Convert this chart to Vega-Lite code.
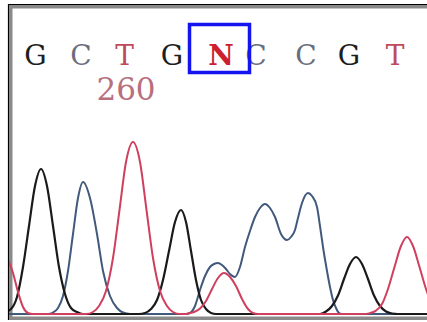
{
  "$schema": "https://vega.github.io/schema/vega-lite/v6.json",
  "width": 423,
  "height": 315,
  "autosize": {"type": "none"},
  "padding": {"left": 9, "top": 5, "right": 0, "bottom": 0},
  "background": "white",
  "config": {"view": {"stroke": "#000000", "strokeWidth": 2.2}},
  "datasets": {
    "traces": [
      {"dye": "C", "x": 0, "v": 0}, {"dye": "C", "x": 48, "v": 0}, {"dye": "C", "x": 53, "v": 1.5}, {"dye": "C", "x": 58, "v": 6}, {"dye": "C", "x": 63, "v": 18}, {"dye": "C", "x": 68, "v": 43}, {"dye": "C", "x": 73, "v": 80}, {"dye": "C", "x": 78, "v": 116}, {"dye": "C", "x": 83, "v": 132}, {"dye": "C", "x": 90, "v": 116}, {"dye": "C", "x": 97, "v": 80}, {"dye": "C", "x": 103, "v": 43}, {"dye": "C", "x": 110, "v": 18}, {"dye": "C", "x": 117, "v": 6}, {"dye": "C", "x": 123, "v": 1.5}, {"dye": "C", "x": 130, "v": 0}, {"dye": "C", "x": 186, "v": 0}, {"dye": "C", "x": 190, "v": 1}, {"dye": "C", "x": 195, "v": 8}, {"dye": "C", "x": 200, "v": 24}, {"dye": "C", "x": 205, "v": 38}, {"dye": "C", "x": 210, "v": 47}, {"dye": "C", "x": 214, "v": 50}, {"dye": "C", "x": 218, "v": 51}, {"dye": "C", "x": 222, "v": 49}, {"dye": "C", "x": 226, "v": 45}, {"dye": "C", "x": 230, "v": 40}, {"dye": "C", "x": 235, "v": 37}, {"dye": "C", "x": 240, "v": 47}, {"dye": "C", "x": 245, "v": 67}, {"dye": "C", "x": 250, "v": 83}, {"dye": "C", "x": 255, "v": 97}, {"dye": "C", "x": 260, "v": 106}, {"dye": "C", "x": 265, "v": 110}, {"dye": "C", "x": 270, "v": 106}, {"dye": "C", "x": 275, "v": 97}, {"dye": "C", "x": 281, "v": 80}, {"dye": "C", "x": 287, "v": 74}, {"dye": "C", "x": 291, "v": 77}, {"dye": "C", "x": 295, "v": 84}, {"dye": "C", "x": 298, "v": 96}, {"dye": "C", "x": 302, "v": 111}, {"dye": "C", "x": 308, "v": 121}, {"dye": "C", "x": 312, "v": 118}, {"dye": "C", "x": 317, "v": 107}, {"dye": "C", "x": 320, "v": 88}, {"dye": "C", "x": 323, "v": 67}, {"dye": "C", "x": 327, "v": 43}, {"dye": "C", "x": 330, "v": 27}, {"dye": "C", "x": 333, "v": 14}, {"dye": "C", "x": 336, "v": 6}, {"dye": "C", "x": 339, "v": 1}, {"dye": "C", "x": 342, "v": 0}, {"dye": "C", "x": 440, "v": 0},
      {"dye": "G", "x": -1, "v": 0}, {"dye": "G", "x": 5, "v": 2}, {"dye": "G", "x": 11, "v": 5}, {"dye": "G", "x": 17, "v": 17}, {"dye": "G", "x": 23, "v": 47}, {"dye": "G", "x": 29, "v": 88}, {"dye": "G", "x": 35, "v": 128}, {"dye": "G", "x": 41, "v": 145}, {"dye": "G", "x": 47, "v": 128}, {"dye": "G", "x": 53, "v": 88}, {"dye": "G", "x": 59, "v": 47}, {"dye": "G", "x": 65, "v": 20}, {"dye": "G", "x": 71, "v": 6}, {"dye": "G", "x": 77, "v": 2}, {"dye": "G", "x": 83, "v": 0}, {"dye": "G", "x": 139, "v": 0}, {"dye": "G", "x": 145, "v": 1}, {"dye": "G", "x": 151, "v": 5}, {"dye": "G", "x": 157, "v": 14}, {"dye": "G", "x": 163, "v": 34}, {"dye": "G", "x": 169, "v": 63}, {"dye": "G", "x": 175, "v": 92}, {"dye": "G", "x": 181, "v": 104}, {"dye": "G", "x": 186, "v": 92}, {"dye": "G", "x": 191, "v": 63}, {"dye": "G", "x": 196, "v": 34}, {"dye": "G", "x": 201, "v": 14}, {"dye": "G", "x": 206, "v": 5}, {"dye": "G", "x": 211, "v": 1}, {"dye": "G", "x": 216, "v": 0}, {"dye": "G", "x": 320, "v": 0}, {"dye": "G", "x": 326, "v": 2.5}, {"dye": "G", "x": 332, "v": 8}, {"dye": "G", "x": 338, "v": 18.5}, {"dye": "G", "x": 344, "v": 35}, {"dye": "G", "x": 350, "v": 50}, {"dye": "G", "x": 356, "v": 57}, {"dye": "G", "x": 362, "v": 50}, {"dye": "G", "x": 368, "v": 35}, {"dye": "G", "x": 374, "v": 18.5}, {"dye": "G", "x": 380, "v": 8}, {"dye": "G", "x": 386, "v": 2.5}, {"dye": "G", "x": 392, "v": 0.5}, {"dye": "G", "x": 398, "v": 0}, {"dye": "G", "x": 440, "v": 0},
      {"dye": "T", "x": 0, "v": 80}, {"dye": "T", "x": 5, "v": 62}, {"dye": "T", "x": 9, "v": 52}, {"dye": "T", "x": 13, "v": 41}, {"dye": "T", "x": 18, "v": 22}, {"dye": "T", "x": 23, "v": 7}, {"dye": "T", "x": 28, "v": 1}, {"dye": "T", "x": 33, "v": 0}, {"dye": "T", "x": 86, "v": 0}, {"dye": "T", "x": 93, "v": 2}, {"dye": "T", "x": 99, "v": 8}, {"dye": "T", "x": 106, "v": 23}, {"dye": "T", "x": 113, "v": 56}, {"dye": "T", "x": 119.5, "v": 104}, {"dye": "T", "x": 126, "v": 152}, {"dye": "T", "x": 133, "v": 172}, {"dye": "T", "x": 140, "v": 152}, {"dye": "T", "x": 146.5, "v": 104}, {"dye": "T", "x": 153, "v": 56}, {"dye": "T", "x": 160, "v": 23}, {"dye": "T", "x": 167, "v": 8}, {"dye": "T", "x": 173, "v": 2}, {"dye": "T", "x": 180, "v": 0}, {"dye": "T", "x": 186, "v": 0}, {"dye": "T", "x": 188, "v": 0.5}, {"dye": "T", "x": 194, "v": 2}, {"dye": "T", "x": 200, "v": 5.5}, {"dye": "T", "x": 206, "v": 13}, {"dye": "T", "x": 212, "v": 25}, {"dye": "T", "x": 218, "v": 36}, {"dye": "T", "x": 224, "v": 41}, {"dye": "T", "x": 230, "v": 37}, {"dye": "T", "x": 236, "v": 28}, {"dye": "T", "x": 242, "v": 15}, {"dye": "T", "x": 248, "v": 5}, {"dye": "T", "x": 253, "v": 1}, {"dye": "T", "x": 258, "v": 0}, {"dye": "T", "x": 363, "v": 0}, {"dye": "T", "x": 370, "v": 0.9}, {"dye": "T", "x": 376, "v": 3.4}, {"dye": "T", "x": 382, "v": 10}, {"dye": "T", "x": 388, "v": 25}, {"dye": "T", "x": 394.5, "v": 47}, {"dye": "T", "x": 401, "v": 68}, {"dye": "T", "x": 407, "v": 77}, {"dye": "T", "x": 413, "v": 68}, {"dye": "T", "x": 419.5, "v": 47}, {"dye": "T", "x": 426, "v": 25}, {"dye": "T", "x": 432, "v": 10}, {"dye": "T", "x": 438, "v": 3.4}
    ],
    "bases": [
      {"base": "G", "x": 35.5}, {"base": "C", "x": 81}, {"base": "T", "x": 124.5}, {"base": "G", "x": 172},
      {"base": "N", "x": 221}, {"base": "C", "x": 256}, {"base": "C", "x": 306}, {"base": "G", "x": 349}, {"base": "T", "x": 395}
    ],
    "positions": [{"pos": "260", "x": 126}]
  },
  "layer": [
    {
      "data": {"values": [{}]},
      "mark": {"type": "rect", "fillOpacity": 0, "stroke": "#8a8a8a", "strokeWidth": 7, "clip": true},
      "encoding": {
        "x": {"datum": 9, "type": "quantitative", "scale": {"domain": [9, 432], "nice": false, "zero": false}, "axis": null},
        "x2": {"datum": 432},
        "y": {"datum": -6, "type": "quantitative", "scale": {"domain": [-6, 309], "nice": false, "zero": false}, "axis": null},
        "y2": {"datum": 309}
      }
    },
    {
      "data": {"name": "traces"},
      "transform": [{"filter": "datum.dye === 'C'"}],
      "mark": {"type": "line", "interpolate": "monotone", "strokeWidth": 2, "color": "#41597a", "clip": true},
      "encoding": {
        "x": {"field": "x", "type": "quantitative"},
        "y": {"field": "v", "type": "quantitative"}
      }
    },
    {
      "data": {"name": "traces"},
      "transform": [{"filter": "datum.dye === 'G'"}],
      "mark": {"type": "line", "interpolate": "monotone", "strokeWidth": 2.2, "color": "#1a1a1a", "clip": true},
      "encoding": {
        "x": {"field": "x", "type": "quantitative"},
        "y": {"field": "v", "type": "quantitative"}
      }
    },
    {
      "data": {"name": "traces"},
      "transform": [{"filter": "datum.dye === 'T'"}],
      "mark": {"type": "line", "interpolate": "monotone", "strokeWidth": 2, "color": "#cf3f5e", "clip": true},
      "encoding": {
        "x": {"field": "x", "type": "quantitative"},
        "y": {"field": "v", "type": "quantitative"}
      }
    },
    {
      "data": {"name": "bases"},
      "transform": [{"filter": "datum.base !== 'N'"}],
      "mark": {"type": "text", "font": "DejaVu Serif", "fontSize": 28, "fontWeight": "normal", "baseline": "alphabetic", "align": "center"},
      "encoding": {
        "x": {"field": "x", "type": "quantitative"},
        "y": {"datum": 249, "type": "quantitative"},
        "text": {"field": "base"},
        "color": {"field": "base", "type": "nominal", "scale": {"domain": ["G", "C", "T", "N"], "range": ["#1e1e1e", "#6a6e7c", "#c04a5a", "#cc1f30"]}, "legend": null}
      }
    },
    {
      "data": {"name": "bases"},
      "transform": [{"filter": "datum.base === 'N'"}],
      "mark": {"type": "text", "font": "DejaVu Serif", "fontSize": 28, "fontWeight": "bold", "baseline": "alphabetic", "align": "center"},
      "encoding": {
        "x": {"field": "x", "type": "quantitative"},
        "y": {"datum": 249, "type": "quantitative"},
        "text": {"field": "base"},
        "color": {"field": "base", "type": "nominal", "legend": null}
      }
    },
    {
      "data": {"name": "bases"},
      "transform": [{"filter": "datum.base === 'N'"}],
      "mark": {"type": "point", "shape": "M-1.3125,-1.6875H1.1875V0.3125H-1.3125Z", "size": 2304, "filled": false, "stroke": "#1414ee", "strokeWidth": 3.5, "opacity": 1},
      "encoding": {
        "x": {"field": "x", "type": "quantitative"},
        "y": {"datum": 249, "type": "quantitative"}
      }
    },
    {
      "data": {"name": "positions"},
      "mark": {"type": "text", "font": "DejaVu Serif", "fontSize": 31, "baseline": "alphabetic", "align": "center", "color": "#b8707e"},
      "encoding": {
        "x": {"field": "x", "type": "quantitative"},
        "y": {"datum": 214, "type": "quantitative"},
        "text": {"field": "pos"}
      }
    }
  ]
}
